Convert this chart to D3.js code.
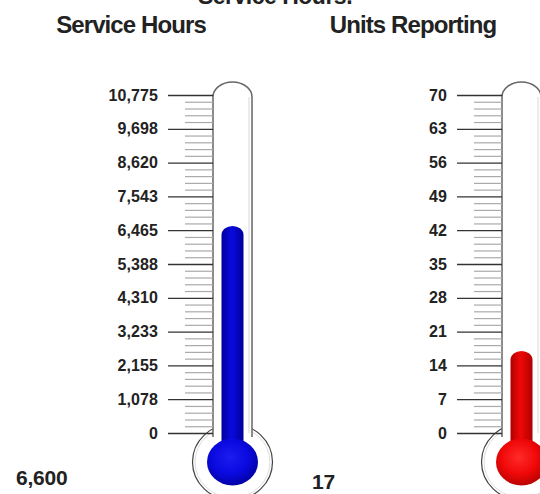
<!DOCTYPE html>
<html><head><meta charset="utf-8">
<script src="https://cdn.jsdelivr.net/npm/d3@7"></script>
<style>
html,body{margin:0;padding:0;background:#fff;}
svg{display:block;}
text{font-family:"Liberation Sans",Arial,sans-serif;font-weight:bold;fill:#222;}
</style></head>
<body>
<svg id="chart" width="540" height="494"></svg>
<script>
// ---- data ----
const titles = ["Service Hours", "Units Reporting"];
const values = [6600, 17];
const valueLabels = ["6,600", "17"];
const maxValues = [10775, 70];
const tickValsHours = [0, 1078, 2155, 3233, 4310, 5388, 6465, 7543, 8620, 9698, 10775];
const tickValsUnits = [0, 7, 14, 21, 28, 35, 42, 49, 56, 63, 70];
const fluidColors = ["blue", "red"];

const svg = d3.select("#chart");
const defs = svg.append("defs");

const palettes = {
  blue: {edge: "#00009a", mid: "#0a0ae0", hi: "#1c1cf0"},
  red:  {edge: "#b00000", mid: "#f00808", hi: "#ff2a2a"}
};
Object.entries(palettes).forEach(([k, p]) => {
  const lg = defs.append("linearGradient").attr("id", "stem-" + k).attr("x1", "0").attr("x2", "1").attr("y1", "0").attr("y2", "0");
  lg.append("stop").attr("offset", "0").attr("stop-color", p.edge);
  lg.append("stop").attr("offset", "0.45").attr("stop-color", p.mid);
  lg.append("stop").attr("offset", "1").attr("stop-color", p.edge);
  const rg = defs.append("radialGradient").attr("id", "bulb-" + k).attr("cx", "0.45").attr("cy", "0.4").attr("r", "0.65");
  rg.append("stop").attr("offset", "0").attr("stop-color", p.hi);
  rg.append("stop").attr("offset", "0.55").attr("stop-color", p.mid);
  rg.append("stop").attr("offset", "1").attr("stop-color", p.edge);
});

// top heading (cut off at the top edge in the reference)
svg.append("text").attr("x", 275).attr("y", 4).attr("text-anchor", "middle")
  .style("font-size", "23px").style("letter-spacing", "-0.5px").text("Service Hours.");

const fmt = d3.format(",");
const centers = [232.5, 521.5];
const titleX = [131, 413];
const valueX = [16, 312];
const valueY = [485, 489];
const yTop = 95, yBottom = 433;
const halfTube = 19.5, halfStem = 11;
const bulbCy = 462;

[0, 1].forEach(i => {
  const cx = centers[i];
  const tickVals = i === 0 ? tickValsHours : tickValsUnits;
  const y = d3.scaleLinear().domain([0, maxValues[i]]).range([yBottom, yTop]);
  const g = svg.append("g");

  // title
  svg.append("text").attr("x", titleX[i]).attr("y", 33).attr("text-anchor", "middle")
    .style("font-size", "24px").style("letter-spacing", "-0.9px").text(titles[i]);

  // bulb outer ring
  g.append("ellipse").attr("cx", cx).attr("cy", bulbCy).attr("rx", 40).attr("ry", 38)
    .attr("fill", "#fff").attr("stroke", "#444").attr("stroke-width", 1.2);
  g.append("ellipse").attr("cx", cx).attr("cy", bulbCy).attr("rx", 37.5).attr("ry", 35.5)
    .attr("fill", "none").attr("stroke", "#ddd").attr("stroke-width", 1);

  // tube
  const tubeTop = 97, capRy = 15;
  const tubePath = `M${cx - halfTube},${yBottom + 4} L${cx - halfTube},${tubeTop}
    A${halfTube},${capRy} 0 0 1 ${cx + halfTube},${tubeTop} L${cx + halfTube},${yBottom + 4}`;
  g.append("rect").attr("x", cx - halfTube).attr("y", tubeTop).attr("width", halfTube * 2).attr("height", yBottom + 6 - tubeTop).attr("fill", "#fff");
  g.append("path").attr("d", tubePath).attr("fill", "#fff").attr("stroke", "#666").attr("stroke-width", 1.5);
  g.append("line").attr("x1", cx + halfTube - 3).attr("x2", cx + halfTube - 3).attr("y1", tubeTop).attr("y2", yBottom)
    .attr("stroke", "#e4e4e4").attr("stroke-width", 1.5);

  // minor ticks
  const minor = [];
  for (let k = 0; k < tickVals.length - 1; k++) {
    const a = tickVals[k], b = tickVals[k + 1];
    for (let m = 1; m <= 4; m++) minor.push(a + (b - a) * m / 5);
  }
  const minorAxis = d3.axisLeft(y).tickValues(minor).tickSize(28).tickFormat("");
  const ma = g.append("g").attr("transform", `translate(${cx - halfTube},0)`).call(minorAxis);
  ma.select(".domain").remove();
  ma.selectAll(".tick line").attr("stroke", "#aaa").attr("stroke-width", 1.2);

  // major ticks + labels
  const majorAxis = d3.axisLeft(y).tickValues(tickVals).tickSize(45).tickPadding(10).tickFormat(fmt);
  const mg = g.append("g").attr("transform", `translate(${cx - halfTube},0)`).call(majorAxis);
  mg.select(".domain").remove();
  mg.selectAll(".tick line").attr("stroke", "#333").attr("stroke-width", 1.3);
  mg.selectAll(".tick text").attr("fill", "#222")
    .style("font-family", '"Liberation Sans",Arial,sans-serif').style("font-weight", "bold")
    .style("font-size", "16px").style("letter-spacing", "0.1px");

  // fluid stem
  const c = fluidColors[i];
  const vTop = y(values[i]);
  const capR = 9;
  g.append("path")
    .attr("d", `M${cx - halfStem},${bulbCy} L${cx - halfStem},${vTop + capR}
      A${halfStem},${capR} 0 0 1 ${cx + halfStem},${vTop + capR} L${cx + halfStem},${bulbCy} Z`)
    .attr("fill", `url(#stem-${c})`);
  // fluid bulb
  g.append("ellipse").attr("cx", cx).attr("cy", bulbCy).attr("rx", 25.5).attr("ry", 23.5)
    .attr("fill", `url(#bulb-${c})`);

  // value label
  svg.append("text").attr("x", valueX[i]).attr("y", valueY[i])
    .style("font-size", "21px").style("letter-spacing", "-0.2px").text(valueLabels[i]);
});
</script>
</body></html>
